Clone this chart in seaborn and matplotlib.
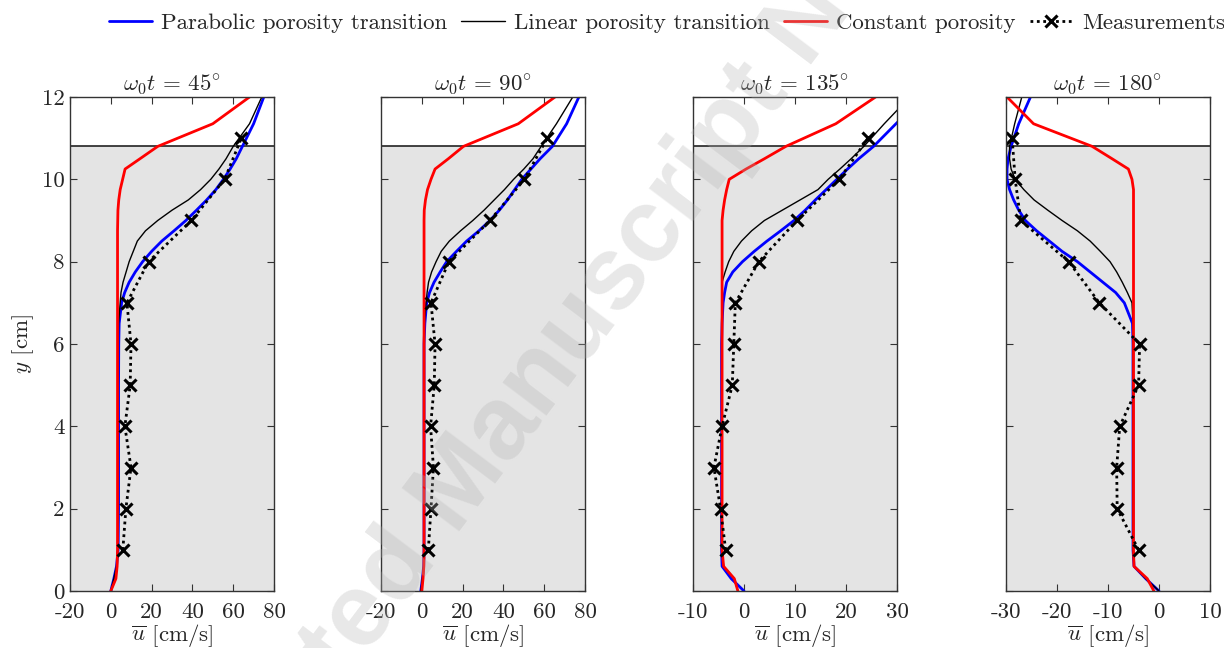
import matplotlib
matplotlib.use("Agg")
import matplotlib.pyplot as plt
import seaborn as sns
from matplotlib.lines import Line2D

# ---------------- data ----------------
Y_MODEL = [0, 0.3, 0.6, 1, 2, 3, 4, 5, 6, 6.5, 7, 7.25, 7.5, 7.75, 8, 8.25, 8.5,
           8.75, 9, 9.25, 9.5, 9.75, 10, 10.25, 10.5, 10.8, 11.35, 12]
Y_MEAS = [1, 2, 3, 4, 5, 6, 7, 8, 9, 10, 11]

PHASES = ["45", "90", "135", "180"]

# phase 45 deg
PARA_45 = [0, 1.5, 2.8, 3.6, 3.8, 3.8, 3.8, 3.8, 3.9, 4.1, 5.3, 6.8, 9.0, 12, 15.6, 20, 25,
           31, 36.8, 42, 47, 51.5, 55.2, 58.5, 61.5, 64.5, 70, 75]
LIN_45 = [0, 1.5, 2.8, 3.4, 3.5, 3.5, 3.5, 3.5, 3.6, 3.8, 4.6, 5.0, 6.0, 7.5, 9.0, 11, 13,
          17, 23, 30, 38, 44, 49, 53, 56.5, 60, 68, 74]
CONST_45 = [0, 2.5, 3.1, 3.3, 3.3, 3.3, 3.3, 3.3, 3.3, 3.3, 3.3, 3.3, 3.3, 3.3, 3.3, 3.3, 3.3,
            3.3, 3.4, 3.5, 3.9, 4.6, 5.8, 7, 14.3, 23, 50, 68]
MEAS_45 = [5.9, 7.4, 9.9, 6.9, 9.5, 9.9, 7.9, 18.5, 39.5, 55.8, 64]

# phase 90 deg
PARA_90 = [-0.5, 0.3, 0.9, 1.1, 1.1, 1.1, 1.1, 1.1, 1.1, 1.5, 2.4, 3.8, 6, 9, 12.2, 17, 22,
           28, 33.4, 38, 42, 45.5, 49, 53.5, 58, 64, 71, 77]
LIN_90 = [-0.5, 0.3, 0.9, 1.1, 1.1, 1.1, 1.1, 1.1, 1.1, 1.2, 2.1, 2.6, 3.3, 4.8, 7, 9.5, 13.5,
          19, 25, 30.5, 35.5, 40.5, 45, 50, 54.5, 58.5, 66, 74]
CONST_90 = [0, 0.6, 1.0, 1.1, 1.1, 1.1, 1.1, 1.1, 1.1, 1.1, 1.1, 1.1, 1.1, 1.1, 1.1, 1.1, 1.1,
            1.1, 1.1, 1.2, 1.8, 2.8, 4.5, 6.5, 13, 20.4, 47.3, 65.3]
MEAS_90 = [3.2, 4.5, 5.7, 4.3, 6.1, 6.5, 4.5, 13.3, 33.4, 50.3, 61.5]

# phase 135 deg
PARA_135 = [0, -2.5, -4.3, -4.4, -4.4, -4.4, -4.4, -4.4, -4.4, -4.3, -4.1, -3.8, -3.4, -2.2,
            -0.3, 2.0, 4.5, 7.2, 9.8, 12, 14, 16.1, 18.2, 20.3, 22.5, 25.4, 29.8, 35]
LIN_135 = [-1.2, -1.9, -4.0, -4.3, -4.3, -4.3, -4.3, -4.3, -4.3, -4.3, -4.3, -4.3, -4.3, -3.7,
           -3.0, -2.0, -0.5, 1.5, 4.0, 7.5, 11, 14.5, 16.5, 18.8, 21, 23.5, 27.5, 32.5]
CONST_135 = [-1.2, -1.9, -4.0, -4.3, -4.3, -4.3, -4.3, -4.3, -4.3, -4.3, -4.3, -4.3, -4.3,
             -4.3, -4.3, -4.3, -4.3, -4.3, -4.3, -4.1, -3.8, -3.4, -2.9, 0.4, 4, 8.2, 18, 25.8]
MEAS_135 = [-3.6, -4.6, -5.9, -4.3, -2.3, -2.0, -1.7, 2.9, 10.4, 18.7, 24.3]

# phase 180 deg
PARA_180 = [0, -2.6, -4.9, -5.1, -5.1, -5.1, -5.1, -5.1, -5.1, -5.2, -6.8, -8.5, -11, -13.5,
            -16, -19, -21.5, -24, -26.2, -27.5, -28.5, -29.3, -29.8, -29.8, -29.6, -29, -27.5,
            -25.2]
LIN_180 = [0, -2.6, -4.9, -5.1, -5.1, -5.1, -5.1, -5.1, -5.1, -5.1, -5.3, -6.2, -7.2, -8.3,
           -9.6, -11.5, -13.5, -16, -19, -21.8, -24.5, -26.5, -28.2, -29, -29.3, -29.3,
           -28.3, -26.9]
CONST_180 = [-1, -2.3, -4.9, -5.0, -5.0, -5.0, -5.0, -5.0, -5.0, -5.0, -5.0, -5.0, -5.0, -5.0,
             -5.0, -5.0, -5.0, -5.0, -5.0, -5.0, -5.0, -5.0, -5.3, -6, -9.2, -13.1, -24.6,
             -29.8]
MEAS_180 = [-4.0, -8.2, -8.3, -7.7, -4.0, -3.8, -11.7, -17.7, -27.1, -28.2, -28.8]

PARABOLIC = [PARA_45, PARA_90, PARA_135, PARA_180]
LINEAR = [LIN_45, LIN_90, LIN_135, LIN_180]
CONSTANT = [CONST_45, CONST_90, CONST_135, CONST_180]
MEASURED = [MEAS_45, MEAS_90, MEAS_135, MEAS_180]

INTERFACE_Y = 10.8
XLIMS = [(-20, 80), (-20, 80), (-10, 30), (-30, 10)]
XTICKS = [[-20, 0, 20, 40, 60, 80], [-20, 0, 20, 40, 60, 80],
          [-10, 0, 10, 20, 30], [-30, -20, -10, 0, 10]]
YTICKS = [0, 2, 4, 6, 8, 10, 12]

LEGEND_LABELS = ["Parabolic porosity transition", "Linear porosity transition",
                 "Constant porosity", "Measurements"]

# ---------------- style ----------------
sns.set_style("ticks")
plt.rcParams["font.family"] = ["cmr10", "DejaVu Serif"]
plt.rcParams["mathtext.fontset"] = "cm"
plt.rcParams["axes.unicode_minus"] = False
plt.rcParams["axes.formatter.use_mathtext"] = False

FS = 16.5
BLUE, BLACK, RED = "#0000ff", "#000000", "#ff0000"
SHADE = "#e4e4e4"
SPINE = "#333333"
MEAS_STYLE = dict(color=BLACK, lw=2.0, linestyle=(0, (1, 1.3)), marker="x",
                  markersize=8, markeredgewidth=2.2, markeredgecolor=BLACK,
                  markerfacecolor=BLACK)

fig = plt.figure(figsize=(12.24, 6.48), dpi=100)
lefts = [70, 381, 693, 1006]
W, H = 204, 494
BOTTOM = 648 - 591

for i in range(4):
    ax = fig.add_axes([lefts[i] / 1224, BOTTOM / 648, W / 1224, H / 648])
    ax.axhspan(0, INTERFACE_Y, color=SHADE, zorder=0, lw=0)
    ax.axhline(INTERFACE_Y, color="#222222", lw=1.2, zorder=1)

    sns.lineplot(x=PARABOLIC[i], y=Y_MODEL, orient="y", sort=False, estimator=None,
                 color=BLUE, lw=2.0, ax=ax, zorder=3)
    sns.lineplot(x=LINEAR[i], y=Y_MODEL, orient="y", sort=False, estimator=None,
                 color=BLACK, lw=1.0, ax=ax, zorder=4)
    sns.lineplot(x=CONSTANT[i], y=Y_MODEL, orient="y", sort=False, estimator=None,
                 color=RED, lw=2.0, ax=ax, zorder=5)
    sns.lineplot(x=MEASURED[i], y=Y_MEAS, orient="y", sort=False, estimator=None,
                 ax=ax, zorder=6, **MEAS_STYLE)

    ax.set_xlim(*XLIMS[i])
    ax.set_ylim(0, 12)
    ax.set_xticks(XTICKS[i])
    ax.set_yticks(YTICKS)
    ax.set_title(r"$\omega_0 t\,=\,%s^{\circ}$" % PHASES[i], fontsize=FS, pad=4)
    ax.set_xlabel(r"$\overline{u}$ [cm/s]", fontsize=FS, labelpad=0)
    ax.tick_params(direction="in", top=True, right=True, length=5, width=0.8,
                   color=SPINE, labelsize=FS)
    ax.tick_params(axis="x", pad=8)
    ax.tick_params(axis="y", pad=4)
    if i == 0:
        ax.set_ylabel(r"$y$ [cm]", fontsize=FS, labelpad=4)
    else:
        ax.set_ylabel("")
        ax.tick_params(labelleft=False)
    for s in ax.spines.values():
        s.set_color(SPINE)
        s.set_linewidth(1.0)
        s.set_zorder(10)

handles = [
    Line2D([], [], color=BLUE, lw=2.0),
    Line2D([], [], color=BLACK, lw=1.0),
    Line2D([], [], color=RED, lw=2.0),
    Line2D([], [], **MEAS_STYLE),
]
fig.legend(handles, LEGEND_LABELS, loc="upper center", bbox_to_anchor=(0.545, 1.012),
           ncol=4, frameon=False, fontsize=FS, handlelength=1.9, handletextpad=0.4,
           columnspacing=0.6)

# watermark
fig.text(0.566, 0.725, "Accepted Manuscript Not Copyedited", fontsize=75,
         family="Liberation Sans", weight="bold", color="#b2b2b2", alpha=0.3,
         rotation=53, ha="center", va="center", zorder=20)

fig.savefig("out.png", dpi=100)
